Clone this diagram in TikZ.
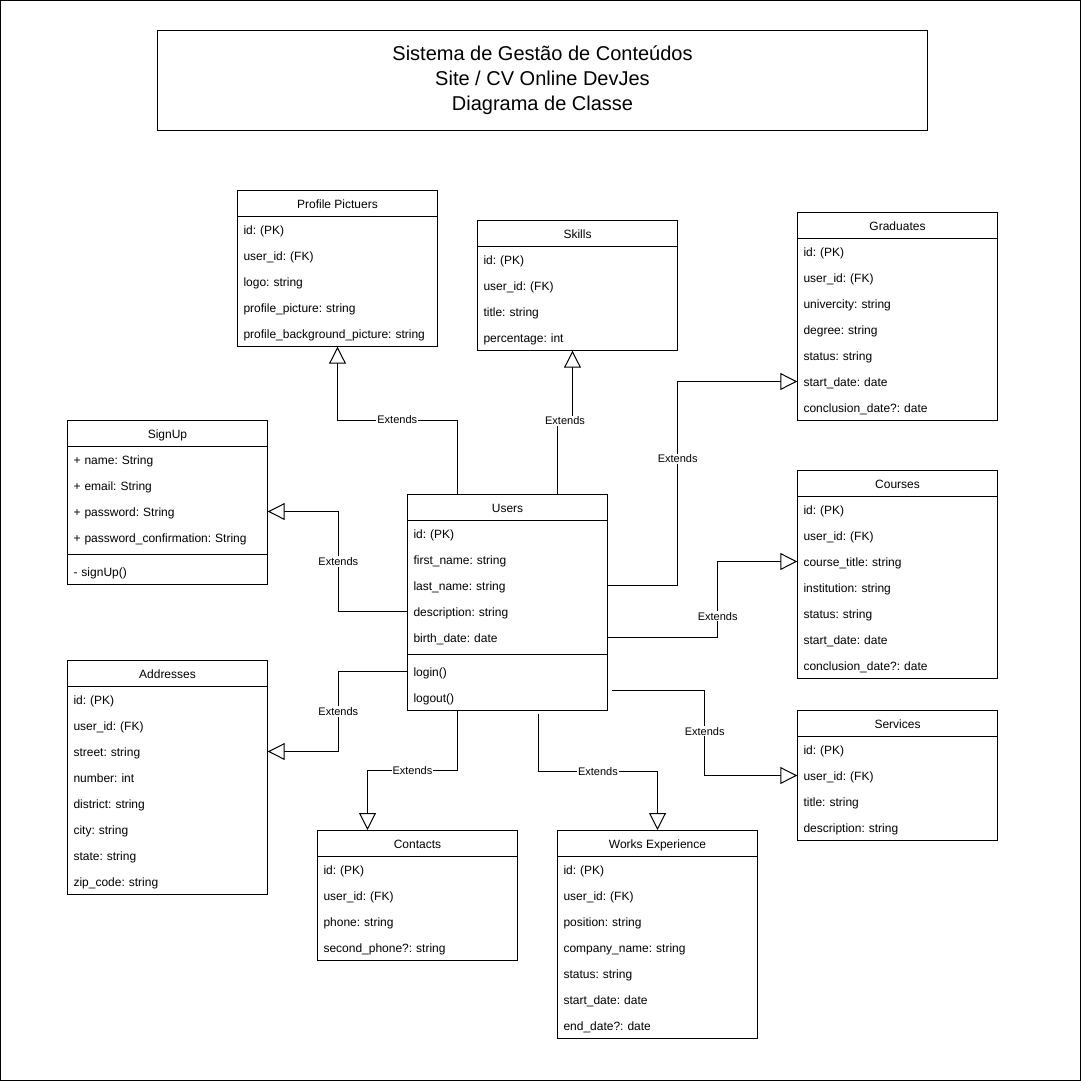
\documentclass[tikz,border=0pt]{standalone}
\usepackage{fontspec}
\setmainfont{Liberation Sans}
\usetikzlibrary{arrows.meta}
\frenchspacing

\tikzset{
  cabec/.style={draw, line width=1pt, minimum width=200pt, minimum height=26pt, inner sep=0pt, text height=9pt, text depth=0pt, font=\fontsize{12}{14}\selectfont},
  linha/.style={minimum width=200pt, minimum height=26pt, text width=188pt, inner xsep=6pt, inner ysep=0pt, text height=9pt, text depth=0pt, align=left, font=\fontsize{12}{14}\selectfont},
  rot/.style={fill=white, inner sep=1pt, font=\fontsize{11}{13}\selectfont},
  ext/.style={line width=1pt, -{Triangle[length=17pt, width=17pt, fill=white]}},
}

% #1 nome, #2 x, #3 y do cabeçalho, #4 título, #5 atributos, #6 métodos
\newcommand{\classe}[6]{%
  \node[cabec] (#1) at (#2,#3) {#4};
  \foreach \txt [count=\i] in {#5}{%
    \node[linha] (#1-\i) at (#2,{#3+26*\i}) {\txt};
    \xdef\ultimo{#1-\i}\xdef\natrib{\i}}
  \def\metodos{#6}%
  \ifx\metodos\empty\else
    \draw[line width=1pt] ([yshift=-4pt]\ultimo.south west) -- ([yshift=-4pt]\ultimo.south east); % divisória
    \foreach \txt [count=\i] in {#6}{%
      \node[linha] (#1-m\i) at (#2,{#3+26*\natrib+8+26*\i}) {\txt};
      \xdef\ultimo{#1-m\i}}
  \fi
  \draw[line width=1pt] (#1.north west) rectangle (\ultimo.south east); % moldura
}

\begin{document}
\begin{tikzpicture}[x=1pt, y=-1pt] %Início do diagrama, y para baixo como na tela
  \useasboundingbox (0,0) rectangle (1081,1081);
  \draw[line width=1pt] (0.5,0.5) rectangle (1080.5,1080.5); %Moldura externa
  \begin{scope}[shift={(0.5,0.5)}] %meio pixel para linhas nítidas
  %Título
  \node[draw, line width=1pt, minimum width=770pt, minimum height=100pt, align=center, font=\fontsize{20}{25}\selectfont] (titulo) at (542,80) {Sistema de Gestão de Conteúdos\\Site / CV Online DevJes\\Diagrama de Classe};
  %Classes
  \classe{prf}{337}{203}{Profile Pictuers}{{id: (PK)},{user\_id: (FK)},{logo: string},{profile\_picture: string},{profile\_background\_picture: string}}{}
  \classe{skl}{577}{233}{Skills}{{id: (PK)},{user\_id: (FK)},{title: string},{percentage: int}}{}
  \classe{grd}{897}{225}{Graduates}{{id: (PK)},{user\_id: (FK)},{univercity: string},{degree: string},{status: string},{start\_date: date},{conclusion\_date?: date}}{}
  \classe{sig}{167}{433}{SignUp}{{+ name: String},{+ email: String},{+ password: String},{+ password\_confirmation: String}}{{- signUp()}}
  \classe{usr}{507}{507}{Users}{{id: (PK)},{first\_name: string},{last\_name: string},{description: string},{birth\_date: date}}{{login()},{logout()}}
  \classe{cur}{897}{483}{Courses}{{id: (PK)},{user\_id: (FK)},{course\_title: string},{institution: string},{status: string},{start\_date: date},{conclusion\_date?: date}}{}
  \classe{adr}{167}{673}{Addresses}{{id: (PK)},{user\_id: (FK)},{street: string},{number: int},{district: string},{city: string},{state: string},{zip\_code: string}}{}
  \classe{svc}{897}{723}{Services}{{id: (PK)},{user\_id: (FK)},{title: string},{description: string}}{}
  \classe{cnt}{417}{843}{Contacts}{{id: (PK)},{user\_id: (FK)},{phone: string},{second\_phone?: string}}{}
  \classe{wex}{657}{843}{Works Experience}{{id: (PK)},{user\_id: (FK)},{position: string},{company\_name: string},{status: string},{start\_date: date},{end\_date?: date}}{}
  %Heranças
  \draw[ext] ([xshift=50pt]usr.north west) -- ++(0,-74) -| node[rot, pos=0.25] {Extends} (prf-5.south); %Profile Pictuers
  \draw[ext] ([xshift=50pt]usr.north) -- ++(0,-73) -| node[rot, pos=0.25] {Extends} ([xshift=-5pt]skl-4.south); %Skills
  \draw[ext] (usr-3.east) -- ++(70,0) |- node[rot, pos=0.31] {Extends} (grd-6.west); %Graduates
  \draw[ext] (usr-5.east) -- ++(110,0) |- node[rot, pos=0.14] {Extends} (cur-3.west); %Courses
  \draw[ext] (usr-4.west) -- ++(-69,0) |- node[rot, pos=0.25] {Extends} (sig-3.east); %SignUp
  \draw[ext] (usr-m1.west) -- ++(-69,0) |- node[rot, pos=0.25] {Extends} (adr-3.east); %Addresses
  \draw[ext] ([xshift=50pt]usr-m2.south west) -- ++(0,60) -| node[rot, pos=0.25] {Extends} ([xshift=-50pt]cnt.north); %Contacts
  \draw[ext] ([xshift=131pt, yshift=-3pt]usr-m2.south west) -- ++(0,58) -| node[rot, pos=0.25] {Extends} (wex.north); %Works Experience
  \draw[ext] ([xshift=4pt, yshift=7pt]usr-m2.east) -- ++(93,0) |- node[rot, pos=0.24] {Extends} (svc-2.west); %Services
  \end{scope}
\end{tikzpicture}
\end{document}
